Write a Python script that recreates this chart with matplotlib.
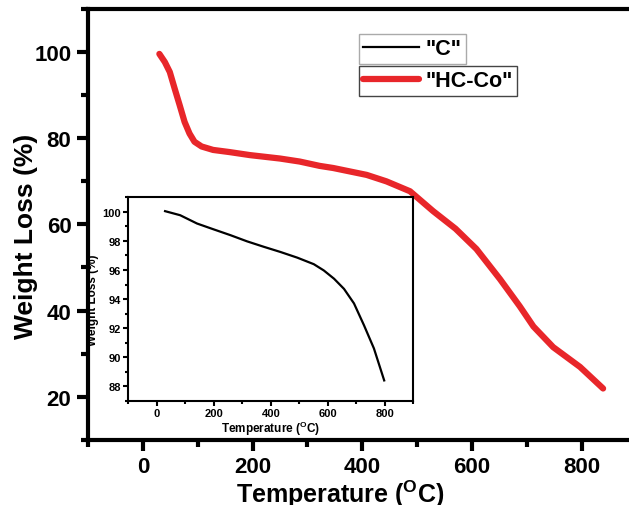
import numpy as np
import matplotlib
matplotlib.use('Agg')
import matplotlib.pyplot as plt
from matplotlib.ticker import MultipleLocator

plt.rcParams['font.family'] = ['Liberation Sans', 'DejaVu Sans']
plt.rcParams['font.weight'] = 'bold'
plt.rcParams['mathtext.fontset'] = 'custom'
plt.rcParams['mathtext.rm'] = 'Liberation Sans:bold'
plt.rcParams['mathtext.bf'] = 'Liberation Sans:bold'

# HC-Co (main curve)
hc_temp = [30, 40, 49, 58, 67, 76, 85, 94, 107, 128, 158, 195, 250, 286, 322,
           347, 408, 444, 487, 529, 570, 608, 651, 687, 712, 748, 797, 839]
hc_loss = [99.6, 97.7, 95.4, 91.5, 87.7, 83.8, 81.1, 79.2, 78.1, 77.3, 76.8,
           76.1, 75.3, 74.6, 73.6, 73.1, 71.5, 70.0, 67.7, 63.1, 59.0, 54.3,
           47.3, 41.0, 36.3, 31.5, 26.9, 21.9]

# C (inset curve)
c_temp = [29, 82, 141, 199, 258, 317, 375, 434, 493, 551, 586, 622, 657, 692,
          727, 762, 798]
c_loss = [100.05, 99.77, 99.2, 98.8, 98.4, 97.97, 97.6, 97.24, 96.85, 96.4,
          95.97, 95.4, 94.7, 93.7, 92.2, 90.6, 88.4]

fig = plt.figure(figsize=(6.29, 5.06), dpi=100)
ax = fig.add_axes([0.14, 0.129, 0.872, 0.851])

main_line, = ax.plot(hc_temp, hc_loss, color='#e8262a', lw=4.5,
                     solid_capstyle='round', solid_joinstyle='round',
                     label='"HC-Co"')
ax.set_xlim(-100, 900)
ax.set_ylim(10, 110)
ax.xaxis.set_major_locator(MultipleLocator(200))
ax.xaxis.set_minor_locator(MultipleLocator(100))
ax.yaxis.set_major_locator(MultipleLocator(20))
ax.yaxis.set_minor_locator(MultipleLocator(10))
ax.set_yticks([20, 40, 60, 80, 100])
ax.tick_params(which='major', direction='out', length=8, width=3,
               labelsize=16, pad=4)
ax.tick_params(which='minor', direction='out', length=5, width=3)
for s in ax.spines.values():
    s.set_linewidth(3)
ax.set_xlabel('Temperature ($^{\\mathbf{O}}$C)', fontsize=18, fontweight='bold')
ax.set_ylabel('Weight Loss (%)', fontsize=19, fontweight='bold')
ax.xaxis.set_label_coords(0.459, -0.088)
ax.yaxis.set_label_coords(-0.092, 0.475)

# inset
axin = fig.add_axes([0.204, 0.206, 0.453, 0.402])
c_line, = axin.plot(c_temp, c_loss, color='black', lw=1.6, label='"C"')
axin.set_xlim(-100, 900)
axin.set_ylim(87, 101)
axin.xaxis.set_major_locator(MultipleLocator(200))
axin.xaxis.set_minor_locator(MultipleLocator(100))
axin.yaxis.set_major_locator(MultipleLocator(2))
axin.yaxis.set_minor_locator(MultipleLocator(1))
axin.set_yticks([88, 90, 92, 94, 96, 98, 100])
axin.tick_params(which='major', direction='out', length=3.5, width=1.5,
                 labelsize=8, pad=2)
axin.tick_params(which='minor', direction='out', length=2.5, width=1.5)
for s in axin.spines.values():
    s.set_linewidth(1.5)
axin.set_xlabel('Temperature ($^{\\mathbf{O}}$C)', fontsize=8.5,
                fontweight='bold', labelpad=0)
axin.set_ylabel('Weight Loss (%)', fontsize=8.5, fontweight='bold', labelpad=2)

# two separate legend boxes
leg1 = ax.legend(handles=[c_line], loc='upper left',
                 bbox_to_anchor=(0.494, 0.942), borderaxespad=0,
                 fancybox=False, framealpha=1, prop={'size': 15.5, 'weight': 'bold'},
                 handlelength=2.6, handletextpad=0.3, borderpad=0.2)
leg1.get_frame().set_edgecolor('#aaaaaa')
leg1.get_frame().set_linewidth(1)
ax.add_artist(leg1)
leg2 = ax.legend(handles=[main_line], loc='upper left',
                 bbox_to_anchor=(0.494, 0.868), borderaxespad=0,
                 fancybox=False, framealpha=1, prop={'size': 15.5, 'weight': 'bold'},
                 handlelength=2.6, handletextpad=0.3, borderpad=0.2)
leg2.get_frame().set_edgecolor('#444444')
leg2.get_frame().set_linewidth(1)

fig.savefig('out.png', dpi=100)
